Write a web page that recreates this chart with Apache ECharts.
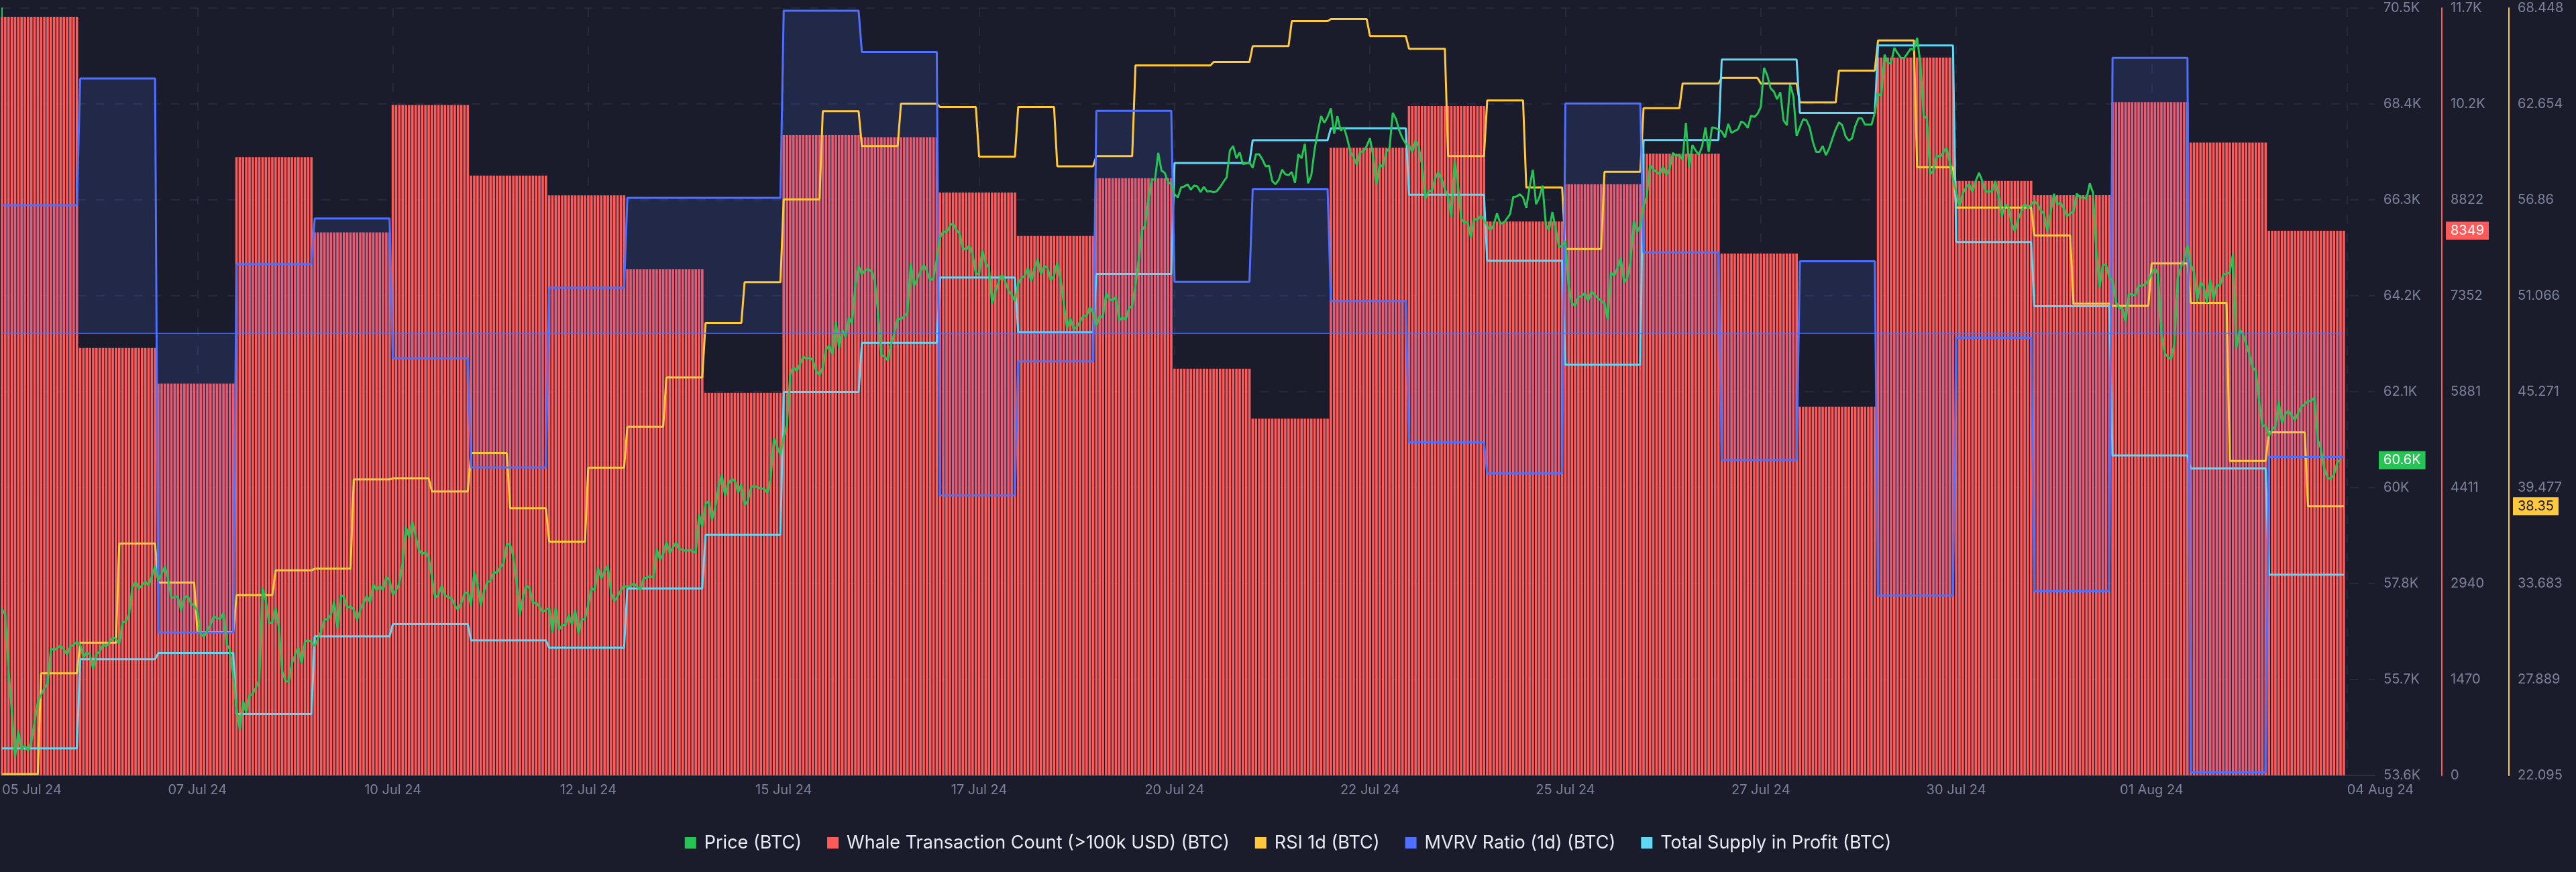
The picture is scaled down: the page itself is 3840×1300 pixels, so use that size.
<!DOCTYPE html>
<html><head><meta charset="utf-8">
<script src="https://cdn.jsdelivr.net/npm/echarts@6/dist/echarts.min.js"></script>
<style>html,body{margin:0;padding:0;background:#1a1c2b;}#c{width:3840px;height:1300px;}</style>
</head><body><div id="c"></div>
<script>
// ---------- axis ranges & tick labels ----------
const xTickHours = [0,60,120,180,240,300,360,420,480,540,600,660,720];
const xTickLabels = ['05 Jul 24','07 Jul 24','10 Jul 24','12 Jul 24','15 Jul 24','17 Jul 24','20 Jul 24','22 Jul 24','25 Jul 24','27 Jul 24','30 Jul 24','01 Aug 24','04 Aug 24'];
const xRange = [0, 728.5];
const priceRange = [53625, 70505];
const priceTickLabels = ['53.6K','55.7K','57.8K','60K','62.1K','64.2K','66.3K','68.4K','70.5K'];
const whaleRange = [0, 11762];
const whaleTickLabels = ['0','1470','2940','4411','5881','7352','8822','10.2K','11.7K'];
const rsiRange = [22.095, 68.448];
const rsiTickLabels = ['22.095','27.889','33.683','39.477','45.271','51.066','56.86','62.654','68.448'];
const mvrvRange = [0.97, 1.02208];
const mvrvBaseline = 1.0;
const supplyRange = [15.5, 19.7];

// ---------- data (05 Jul 24 .. 03 Aug 24) ----------
// daily whale transaction count (>100k USD)
const whaleDaily = [11629,6553,6006,9477,8322,10276,9195,8890,7760,5864,9820,9782,8935,8268,9155,6234,5470,9620,10262,8489,9062,9532,8000,5650,11005,9113,8893,10320,9700,8349];
// daily MVRV ratio (1d)
const mvrvDaily = [1.0087,1.0173,0.9797,1.0047,1.0078,0.9983,0.9909,1.0031,1.0092,1.0092,1.0219,1.0191,0.9890,0.9981,1.0151,1.0035,1.0098,1.0022,0.9926,0.9905,1.0156,1.0055,0.9914,1.0049,0.9822,0.9997,0.9825,1.0187,0.9702,0.9916];
// daily total supply in profit (millions BTC)
const supplyDaily = [15.648,16.136,16.170,15.836,16.261,16.328,16.239,16.199,16.523,16.817,17.598,17.867,18.225,17.925,18.244,18.852,18.977,19.042,18.678,18.317,17.748,18.978,19.418,19.125,19.495,18.420,18.068,17.251,17.181,16.599];
// RSI, one value per 12 hours
const rsiHalfDay = [22.18,28.26,30.11,36.10,33.74,30.75,32.98,34.48,34.58,39.97,
  40.04,39.24,41.56,38.23,36.22,40.68,43.15,46.13,49.42,51.89,
  56.89,62.22,60.11,62.67,62.47,59.47,62.47,58.89,59.50,64.98,
  64.98,65.19,66.15,67.66,67.78,66.76,65.99,59.50,62.87,57.61,
  53.89,58.55,62.40,63.89,64.22,63.89,62.74,64.67,66.49,58.83,
  56.39,56.39,54.71,50.59,50.46,53.02,50.64,41.09,42.82,38.35];
// hourly BTC price (null = not read)
const priceHourly = [
57290,57160,55930,55050,54020,54610,54190,54290,54160,54360,
null,55240,null,55540,55640,56420,56380,null,56480,56400,
56280,56460,56500,56560,56500,56220,56330,56280,55960,56300,
56350,56500,56460,null,56660,56630,56520,56990,57010,57160,
57750,57880,57730,null,57890,57800,58000,58230,57910,null,
58220,57950,57530,null,57560,57250,57530,57580,57410,57360,
57240,56740,56670,null,56940,57120,null,57060,57200,56500,
56390,55830,55100,54630,55270,55000,55390,55420,null,55710,
57750,57460,56970,56990,57310,56870,55930,55700,55690,56080,
56280,56430,56080,56570,56600,56570,56470,null,56790,57060,
57060,57160,57460,56870,57580,57560,57310,57350,57270,57040,
57260,null,57580,57430,57830,57700,57800,57700,57990,57910,
57600,57700,57850,58300,59100,58860,59200,58880,58590,58490,
58540,58420,null,57530,57600,57800,57580,null,57520,57360,
57270,57410,57630,57650,57360,58100,57800,57360,57680,57880,
57900,58100,58070,58210,58290,58710,58710,58440,57850,57160,
57560,57800,57740,57410,57430,57330,57220,57270,57310,56770,
57330,56820,56940,56930,57160,56940,57260,56740,57060,57060,
57380,57740,57700,58190,57950,58120,58240,57650,57460,57560,
57700,57800,57760,57800,57850,57780,57700,57970,57970,58020,
57970,58610,58370,58490,58760,58520,58640,58750,58600,58590,
58560,58590,null,58520,59380,59100,59610,59650,59250,59520,
59970,60240,59770,60040,60140,60110,59840,60040,59570,59670,
59970,59990,59970,59930,59940,59840,60160,61050,60850,60680,
61070,61340,62430,62600,62520,62670,62840,62790,62820,62750,
62520,62430,62600,62990,63090,62890,63610,63020,63430,63260,
63700,63560,64390,64830,64640,64740,64760,64710,64490,63800,
62870,62840,62750,63110,63360,63680,63650,63730,63800,64890,
64390,64540,64710,64860,64710,64520,64560,64980,65450,65600,
65570,65720,65770,65620,65550,65230,65180,65280,65080,64660,
64660,65180,64890,64790,64000,64270,64490,64640,64490,64300,
64200,64050,64440,64570,64610,64790,64490,64790,64980,64640,
64830,64790,64520,64610,64910,64540,64000,63460,63680,63460,
63480,63610,63730,63730,63930,63800,63510,63730,63700,64240,
64100,64070,64150,63630,63700,63650,63900,63950,64390,64980,
65620,65720,66310,66730,66730,67320,66930,66880,66680,66630,
66410,66340,66560,66580,66630,66510,66600,66580,66460,66570,
66470,66480,66450,66480,66570,66680,66780,67370,67470,67200,
67330,67070,67090,67110,66990,67290,67290,67170,67020,67040,
66700,66630,66730,66950,66850,66830,66900,66660,67290,67200,
67520,66650,66830,67390,67790,68130,67980,68110,68300,67740,
68130,67810,67880,67640,67340,67220,67050,67340,67350,67470,
67640,67250,66630,67070,67000,67340,67420,68200,68060,67810,
67640,67520,67490,67340,67590,67440,67050,66310,66480,66480,
66750,66900,66750,66510,66360,65920,67150,66630,65870,65790,
65790,65450,65870,65840,65940,65840,65720,65620,65740,65990,
65770,65770,65870,65970,66350,66360,66410,66340,66110,66560,
66950,66190,66340,66600,65740,65620,66020,65670,65250,65280,
65380,64390,64020,63950,64150,64170,64240,64070,64270,null,
64120,64070,64000,63650,64690,64610,64790,65010,64470,64570,
64930,65820,65570,65720,66160,66360,67050,66950,66900,66850,
67020,66830,66970,67320,67250,67280,67170,67980,67000,67490,
67370,67280,67470,67880,67340,67880,67870,67830,67790,67660,
67960,67760,null,67840,68010,67970,67870,68140,68110,68180,
68330,69190,69020,68740,68670,68500,68650,68030,67930,68820,
68570,67690,67880,68060,68040,67880,67560,67340,67340,67470,
67270,67420,67640,67840,67990,67930,67690,67590,67640,67910,
68080,68080,67940,67940,67940,68200,68620,68570,69480,69290,
69290,69630,69510,69410,69400,null,69610,69580,69850,69280,
68130,68080,66850,66930,67270,67220,67320,67440,67120,66750,
66460,66160,66430,66560,66630,66460,66700,66880,66700,66470,
null,66470,66700,66390,65920,66180,66150,65760,65600,65860,
66020,66200,66100,66180,66260,66180,66050,65970,65600,66020,
66420,66180,66230,66100,65920,65990,66020,66420,66340,66340,
66310,66650,66440,65180,64360,64860,64860,64570,64520,64040,
63910,63890,63600,64220,64200,64180,64400,64390,64430,64520,
64650,64780,64650,63330,62910,62830,62780,63120,64570,64810,
64970,65280,64860,64700,64070,64470,64390,64020,64520,64100,
64410,64400,64650,64650,64700,65100,63020,63440,63330,63120,
62890,62600,62520,61860,61310,61330,61090,61230,61310,61860,
61380,61570,61650,61540,61440,61600,61730,null,61860,61860,
61940,61020,60800,60380,60170,60150,60250,60510,60560];

// ---------- build series data ----------
function spread(vals, hoursPer) {
  const out = [];
  vals.forEach((v, i) => { for (let k = 0; k < hoursPer; k++) out.push([i * hoursPer + k, v]); });
  return out;
}
const whaleData = spread(whaleDaily, 24);
const mvrvData = spread(mvrvDaily, 24);
const supplyData = spread(supplyDaily, 24);
const rsiData = spread(rsiHalfDay, 12);
const priceData = priceHourly.map((v, i) => [i, v]).filter(p => p[1] != null);
const lastHour = mvrvData[mvrvData.length - 1][0];

function ticks(r) { const s = (r[1] - r[0]) / 8; return Array.from({length: 9}, (_, i) => r[0] + i * s); }
function labelFor(r, labels) { const s = (r[1] - r[0]) / 8; return v => labels[Math.round((v - r[0]) / s)] || ''; }

const BG = '#1a1c2b', GRIDC = '#2b2f46', LABC = '#7c8299';
const C_PRICE = '#26c455', C_WHALE = '#ff5a5a', C_RSI = '#ffc83d', C_MVRV = '#4f70ff', C_SUP = '#62d8f5';
const FONT = 'Inter, "Liberation Sans", Arial, sans-serif';

function yAxis(range, labels, color, offset, showSplit) {
  return {
    type: 'value', position: 'right', offset: offset, min: range[0], max: range[1],
    axisLine: {show: true, lineStyle: {color: color, width: 2}},
    axisTick: {show: false, customValues: ticks(range)},
    axisLabel: {show: true, customValues: ticks(range), formatter: labelFor(range, labels),
      color: LABC, fontSize: 20, fontFamily: FONT, margin: 13, showMinLabel: true, showMaxLabel: true},
    splitLine: {show: showSplit, lineStyle: {color: GRIDC, type: [13, 15], width: 1.5}}
  };
}
// last-value tag drawn as a single label on an overlaid axis
function tagAxis(range, offset, value, text, bg, fg) {
  return {
    type: 'value', position: 'right', offset: offset, min: range[0], max: range[1],
    axisLine: {show: false}, axisTick: {show: false}, splitLine: {show: false},
    axisLabel: {show: true, customValues: [value], formatter: () => text,
      backgroundColor: bg, color: fg, fontSize: 20, fontFamily: FONT,
      padding: [4, 7, 3, 7], margin: 6, showMinLabel: true, showMaxLabel: true}
  };
}

const lastPrice = priceData[priceData.length - 1][1];
const lastWhale = whaleDaily[whaleDaily.length - 1];
const lastRsi = rsiHalfDay[rsiHalfDay.length - 1];

const chart = echarts.init(document.getElementById('c'), null, {renderer: 'canvas'});
chart.setOption({
  animation: false,
  backgroundColor: BG,
  grid: {left: 0, right: 300, top: 12, bottom: 144, containLabel: false},
  legend: {
    top: 1238, left: 'center', icon: 'rect', itemWidth: 17, itemHeight: 17, itemGap: 38,
    textStyle: {color: '#e9ebf3', fontSize: 27, fontFamily: FONT, padding: [0, 0, 0, 7]},
    data: ['Price (BTC)', 'Whale Transaction Count (>100k USD) (BTC)', 'RSI 1d (BTC)', 'MVRV Ratio (1d) (BTC)', 'Total Supply in Profit (BTC)']
  },
  xAxis: {
    type: 'value', min: xRange[0], max: xRange[1],
    axisLine: {show: true, lineStyle: {color: '#2a2e45', width: 2}},
    axisTick: {show: false, customValues: xTickHours},
    axisLabel: {customValues: xTickHours, color: LABC, fontSize: 20, fontFamily: FONT, margin: 12,
      formatter: v => xTickLabels[xTickHours.indexOf(v)] || '',
      alignMinLabel: 'left', alignMaxLabel: 'left', showMinLabel: true, showMaxLabel: true},
    splitLine: {show: true, lineStyle: {color: GRIDC, type: [13, 15], width: 1.5}}
  },
  yAxis: [
    yAxis(priceRange, priceTickLabels, C_PRICE, 0, true),
    yAxis(whaleRange, whaleTickLabels, C_WHALE, 100, false),
    yAxis(rsiRange, rsiTickLabels, C_RSI, 200, false),
    {type: 'value', show: false, min: mvrvRange[0], max: mvrvRange[1]},
    {type: 'value', show: false, min: supplyRange[0], max: supplyRange[1]},
    tagAxis(priceRange, 0, lastPrice, (lastPrice / 1000).toFixed(1) + 'K', C_PRICE, '#ffffff'),
    tagAxis(whaleRange, 100, lastWhale, String(lastWhale), C_WHALE, '#ffffff'),
    tagAxis(rsiRange, 200, lastRsi, lastRsi.toFixed(2), C_RSI, '#1a1c2b')
  ],
  series: [
    {name: 'Whale Transaction Count (>100k USD) (BTC)', type: 'bar', xAxisIndex: 0, yAxisIndex: 1,
      data: whaleData, barWidth: 3.6, itemStyle: {color: C_WHALE}, silent: true},
    {name: 'RSI 1d (BTC)', type: 'line', yAxisIndex: 2, data: rsiData, symbol: 'none', showSymbol: false,
      lineStyle: {color: C_RSI, width: 3}, itemStyle: {color: C_RSI}, silent: true},
    {name: 'Total Supply in Profit (BTC)', type: 'line', yAxisIndex: 4, data: supplyData, symbol: 'none', showSymbol: false,
      lineStyle: {color: C_SUP, width: 3}, itemStyle: {color: C_SUP}, silent: true},
    {name: 'MVRV Ratio (1d) (BTC)', type: 'line', yAxisIndex: 3, data: mvrvData, symbol: 'none', showSymbol: false,
      lineStyle: {color: C_MVRV, width: 3}, itemStyle: {color: C_MVRV},
      areaStyle: {color: 'rgba(79,112,255,0.2)', origin: mvrvBaseline}, silent: true,
      markLine: {silent: true, symbol: 'none', label: {show: false},
        lineStyle: {color: C_MVRV, width: 1.5, type: 'solid'},
        data: [[{coord: [0, mvrvBaseline]}, {coord: [lastHour, mvrvBaseline]}]]}},
    {name: 'Price (BTC)', type: 'line', yAxisIndex: 0, data: priceData, symbol: 'none', showSymbol: false,
      lineStyle: {color: C_PRICE, width: 3}, itemStyle: {color: C_PRICE}, silent: true}
  ]
});
</script></body></html>
